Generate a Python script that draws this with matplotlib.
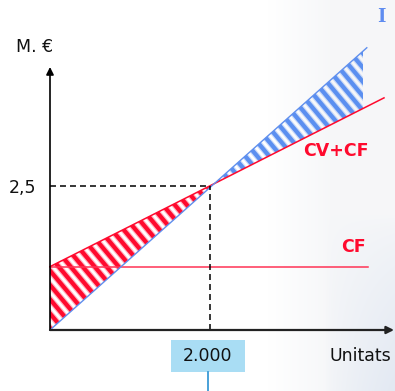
import numpy as np
import matplotlib
matplotlib.use("Agg")
import matplotlib.pyplot as plt
from matplotlib.patches import Polygon, Rectangle, FancyArrowPatch
from matplotlib.collections import LineCollection

plt.rcParams['lines.scale_dashes'] = False

# ---- data (units, M. €) ----
breakeven_units = 2000
breakeven_value = 2.5
fixed_cost = 1.1
cf_x = [0, 3975]
cf_y = [fixed_cost, fixed_cost]
total_cost_x = [0, 4175]
total_cost_y = [fixed_cost, 4.03]
income_x = [0, 3960]
income_y = [0, 4.9]
y_tick_label = "2,5"
x_tick_label = "2.000"
y_axis_label = "M. €"
x_axis_label = "Unitats"

# ---- figure / pixel mapping ----
W, H = 395, 391
fig = plt.figure(figsize=(W / 100, H / 100), dpi=100)
ax = fig.add_axes([0, 0, 1, 1])
ox, oy = 50, 330          # origin pixel (from top)
sx = 160 / 2000           # px per unit
sy = 144 / 2.5            # px per M€
ax.set_xlim(-ox / sx, (W - ox) / sx)
ax.set_ylim((oy - H) / sy, oy / sy)
ax.axis('off')

def px2x(px):
    return (px - ox) / sx

def py2y(py):
    return (oy - py) / sy

# ---- background tint on the right ----
nx, ny = 140, 391
gx = np.linspace(0, 1, nx)[None, :]
gy = np.linspace(0, 1, ny)[:, None]
img = np.ones((ny, nx, 3))
grey = np.array([0.965, 0.968, 0.975])
blue = np.array([0.87, 0.90, 0.945])
t = np.clip(gx * 2.0, 0, 1)[..., None] * np.ones((ny, 1, 1))
img = img * (1 - t) + grey * t
bl = (np.clip((gx - 0.45) / 0.55, 0, 1) * np.clip((gy - 0.55) / 0.45, 0, 1)) ** 0.7
bl = bl[..., None]
img = img * (1 - 0.8 * bl) + blue * 0.8 * bl
ax.imshow(img, extent=[px2x(268), px2x(W), py2y(H), py2y(0)], aspect='auto',
          zorder=0, interpolation='bilinear')

RED = '#ff0a2e'
BLUE = '#5f8fee'

def lin(xs, ys, x):
    return np.interp(x, xs, ys)

def stripes(poly_xy, color, light, x0px, x1px, ytop, ybot, phase):
    poly = Polygon(poly_xy, closed=True, facecolor='none', edgecolor='none',
                   transform=ax.transData)
    ax.add_patch(poly)
    ang = np.deg2rad(50)
    dxpx = (ybot - ytop) / np.tan(ang)
    segs = []
    for p in np.arange(x0px - dxpx - 30 + phase, x1px + 30, 12.0):
        segs.append([(px2x(p), py2y(ytop)), (px2x(p + dxpx), py2y(ybot))])
    for lw, col, a in [(6.5, light, 0.6), (4.2, color, 1.0)]:
        lc = LineCollection(segs, colors=col, linewidths=lw * 0.72, alpha=a,
                            zorder=1, capstyle='butt')
        lc.set_clip_path(poly)
        ax.add_collection(lc)

# red hatch: between total cost and income, left of break-even
xs = np.linspace(0, breakeven_units, 50)
red_poly = list(zip(xs, lin(total_cost_x, total_cost_y, xs))) + \
    list(zip(xs[::-1], lin(income_x, income_y, xs[::-1])))
stripes(red_poly, RED, '#ff8095', 50, 210, 170, 335, 0)

# blue hatch: between income and total cost, right of break-even
xe = px2x(363)
xs2 = np.linspace(breakeven_units, xe, 50)
blue_poly = list(zip(xs2, lin(income_x, income_y, xs2))) + \
    list(zip(xs2[::-1], lin(total_cost_x, total_cost_y, xs2[::-1])))
stripes(blue_poly, '#5b8ff0', '#a9c4f7', 200, 370, 40, 200, 4)

# ---- lines ----
ax.plot(cf_x, cf_y, color='#ff3355', lw=1.1, zorder=2)
ax.plot(total_cost_x, total_cost_y, color=RED, lw=1.1, zorder=2)
ax.plot(income_x, income_y, color=BLUE, lw=1.0, zorder=2)

# dashed guides
ax.plot([0, breakeven_units], [breakeven_value, breakeven_value], color='black',
        lw=1.1, dashes=(4.3, 2.9), zorder=2)
ax.plot([breakeven_units, breakeven_units], [0, breakeven_value], color='black',
        lw=1.1, dashes=(4.3, 2.9), zorder=2)

# ---- axes arrows ----
ax.add_patch(FancyArrowPatch((0, 0), (0, py2y(67)), arrowstyle='-|>',
                             mutation_scale=11, color='black', lw=1.2,
                             shrinkA=0, shrinkB=0, zorder=4))
ax.add_patch(FancyArrowPatch((0, 0), (px2x(394), 0), arrowstyle='-|>',
                             mutation_scale=11, color='#222222', lw=1.6,
                             shrinkA=0, shrinkB=0, zorder=4))

# ---- texts ----
ax.text(px2x(35), py2y(47), y_axis_label, fontsize=12.5, ha='center',
        va='center', color='#111111', family='DejaVu Sans')
ax.text(px2x(23), py2y(188), y_tick_label, fontsize=12.5, ha='center',
        va='center', color='#111111', family='DejaVu Sans')
ax.text(px2x(360), py2y(356), x_axis_label, fontsize=12.5, ha='center',
        va='center', color='#111111', family='DejaVu Sans')

# 2.000 box
ax.add_patch(Rectangle((px2x(171), py2y(372)), px2x(245) - px2x(171),
                       py2y(340) - py2y(372), facecolor='#a9ddf4',
                       edgecolor='none', zorder=3))
ax.text(px2x(208), py2y(356), x_tick_label, fontsize=12.5, ha='center',
        va='center', color='#111111', zorder=4, family='DejaVu Sans')
ax.plot([px2x(208), px2x(208)], [py2y(372), py2y(391)],
        color='#3a9ad6', lw=1.3, zorder=3)

ax.text(px2x(336), py2y(151), 'CV+CF', fontsize=12.5, fontweight='bold',
        ha='center', va='center', color=RED, family='DejaVu Sans')
ax.text(px2x(353), py2y(247), 'CF', fontsize=12.5, fontweight='bold',
        ha='center', va='center', color=RED, family='DejaVu Sans')
ax.text(px2x(381), py2y(17), 'I', fontsize=13, fontweight='bold',
        ha='center', va='center', color='#5f8cf0', family='DejaVu Serif')

fig.savefig('out.png', dpi=100)
